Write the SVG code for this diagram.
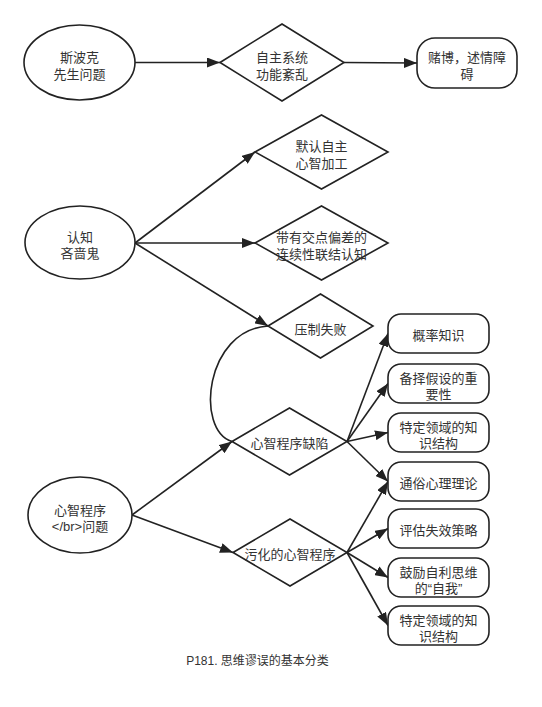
<svg xmlns="http://www.w3.org/2000/svg" width="542" height="707" viewBox="0 0 542 707">
<style>
.n{fill:#fff;stroke:#222;stroke-width:1.6}
.t{font-family:"Liberation Sans","Noto Sans CJK SC",sans-serif;font-size:13px;fill:#333;text-anchor:middle}
.c{fill:none;stroke:#222;stroke-width:1.6}
.cap{font-family:"Liberation Sans","Noto Sans CJK SC",sans-serif;font-size:12px;fill:#333;text-anchor:middle}
</style>
<defs>
<marker id="arr" markerWidth="14" markerHeight="10" refX="13" refY="5" orient="auto" markerUnits="userSpaceOnUse">
<path d="M0,0 L13,5 L0,10 z" fill="#222"/>
</marker>
</defs>
<rect width="542" height="707" fill="#fff"/>
<g id="connectors">
<line class="c" x1="135" y1="62.5" x2="220" y2="62.5" marker-end="url(#arr)"/>
<line class="c" x1="344" y1="62.5" x2="417" y2="63" marker-end="url(#arr)"/>
<line class="c" x1="135" y1="243" x2="255" y2="152" marker-end="url(#arr)"/>
<line class="c" x1="135" y1="243" x2="255" y2="243" marker-end="url(#arr)"/>
<line class="c" x1="135" y1="243" x2="268" y2="326" marker-end="url(#arr)"/>
<path class="c" d="M268 326 C205 330 195 430 232 441.5"/>
<line class="c" x1="132" y1="515" x2="232" y2="441.5" marker-end="url(#arr)"/>
<line class="c" x1="132" y1="515" x2="233" y2="552.5" marker-end="url(#arr)"/>
<line class="c" x1="347" y1="441.5" x2="388" y2="333.5" marker-end="url(#arr)"/>
<line class="c" x1="347" y1="441.5" x2="388" y2="383.5" marker-end="url(#arr)"/>
<line class="c" x1="347" y1="441.5" x2="388" y2="432.5" marker-end="url(#arr)"/>
<line class="c" x1="347" y1="441.5" x2="388" y2="481.5" marker-end="url(#arr)"/>
<line class="c" x1="347" y1="552.5" x2="388" y2="481.5" marker-end="url(#arr)"/>
<line class="c" x1="347" y1="552.5" x2="388" y2="528.5" marker-end="url(#arr)"/>
<line class="c" x1="347" y1="552.5" x2="388" y2="577.5" marker-end="url(#arr)"/>
<line class="c" x1="347" y1="552.5" x2="388" y2="625.5" marker-end="url(#arr)"/>
</g>
<g id="spock">
<ellipse class="n" cx="79.5" cy="62.5" rx="55.5" ry="37.5"/>
<text class="t" x="79.5" y="62">斯波克</text>
<text class="t" x="79.5" y="78.5">先生问题</text>
</g>
<g id="autonomous">
<polygon class="n" points="220,62.5 282,24 344,62.5 282,101"/>
<text class="t" x="282" y="62">自主系统</text>
<text class="t" x="282" y="78.5">功能紊乱</text>
</g>
<g id="gambling">
<rect class="n" x="417" y="38" width="100" height="50" rx="18"/>
<text class="t" x="467" y="62">赌博，述情障</text>
<text class="t" x="467" y="78.5">碍</text>
</g>
<g id="miser">
<ellipse class="n" cx="80" cy="242.5" rx="55" ry="36.5"/>
<text class="t" x="80" y="241.5">认知</text>
<text class="t" x="80" y="258">吝啬鬼</text>
</g>
<g id="default">
<polygon class="n" points="255,152 321.5,115 388,152 321.5,189"/>
<text class="t" x="321.5" y="151">默认自主</text>
<text class="t" x="321.5" y="167.5">心智加工</text>
</g>
<g id="serial">
<polygon class="n" points="255,243 321.5,206 388,243 321.5,280"/>
<text class="t" x="321.5" y="242">带有交点偏差的</text>
<text class="t" x="321.5" y="258.5">连续性联结认知</text>
</g>
<g id="override">
<polygon class="n" points="268,326 320.5,294 373,326 320.5,358"/>
<text class="t" x="320.5" y="333.5">压制失败</text>
</g>
<g id="mindware">
<ellipse class="n" cx="80" cy="515" rx="52" ry="38"/>
<text class="t" x="80" y="515">心智程序</text>
<text class="t" x="80" y="531">&lt;/br&gt;问题</text>
</g>
<g id="gap">
<polygon class="n" points="232,441.5 289.5,408 347,441.5 289.5,475"/>
<text class="t" x="289.5" y="448">心智程序缺陷</text>
</g>
<g id="contaminated">
<polygon class="n" points="233,552.5 290,519 347,552.5 290,586"/>
<text class="t" x="290" y="559">污化的心智程序</text>
</g>
<g id="prob">
<rect class="n" x="388" y="314" width="101" height="39" rx="13"/>
<text class="t" x="438.5" y="340">概率知识</text>
</g>
<g id="alt">
<rect class="n" x="388" y="364" width="101" height="39" rx="13"/>
<text class="t" x="438.5" y="382.5">备择假设的重</text>
<text class="t" x="438.5" y="398.5">要性</text>
</g>
<g id="domain1">
<rect class="n" x="388" y="413" width="101" height="39" rx="13"/>
<text class="t" x="438.5" y="431.5">特定领域的知</text>
<text class="t" x="438.5" y="447.5">识结构</text>
</g>
<g id="folk">
<rect class="n" x="388" y="462" width="101" height="39" rx="13"/>
<text class="t" x="438.5" y="488">通俗心理理论</text>
</g>
<g id="eval">
<rect class="n" x="388" y="509" width="101" height="39" rx="13"/>
<text class="t" x="438.5" y="535">评估失效策略</text>
</g>
<g id="self">
<rect class="n" x="388" y="558" width="101" height="39" rx="13"/>
<text class="t" x="438.5" y="576.5">鼓励自利思维</text>
<text class="t" x="438.5" y="592.5">的“自我”</text>
</g>
<g id="domain2">
<rect class="n" x="388" y="606" width="101" height="39" rx="13"/>
<text class="t" x="438.5" y="624.5">特定领域的知</text>
<text class="t" x="438.5" y="640.5">识结构</text>
</g>
<text class="cap" x="257.5" y="665">P181. 思维谬误的基本分类</text>
</svg>
